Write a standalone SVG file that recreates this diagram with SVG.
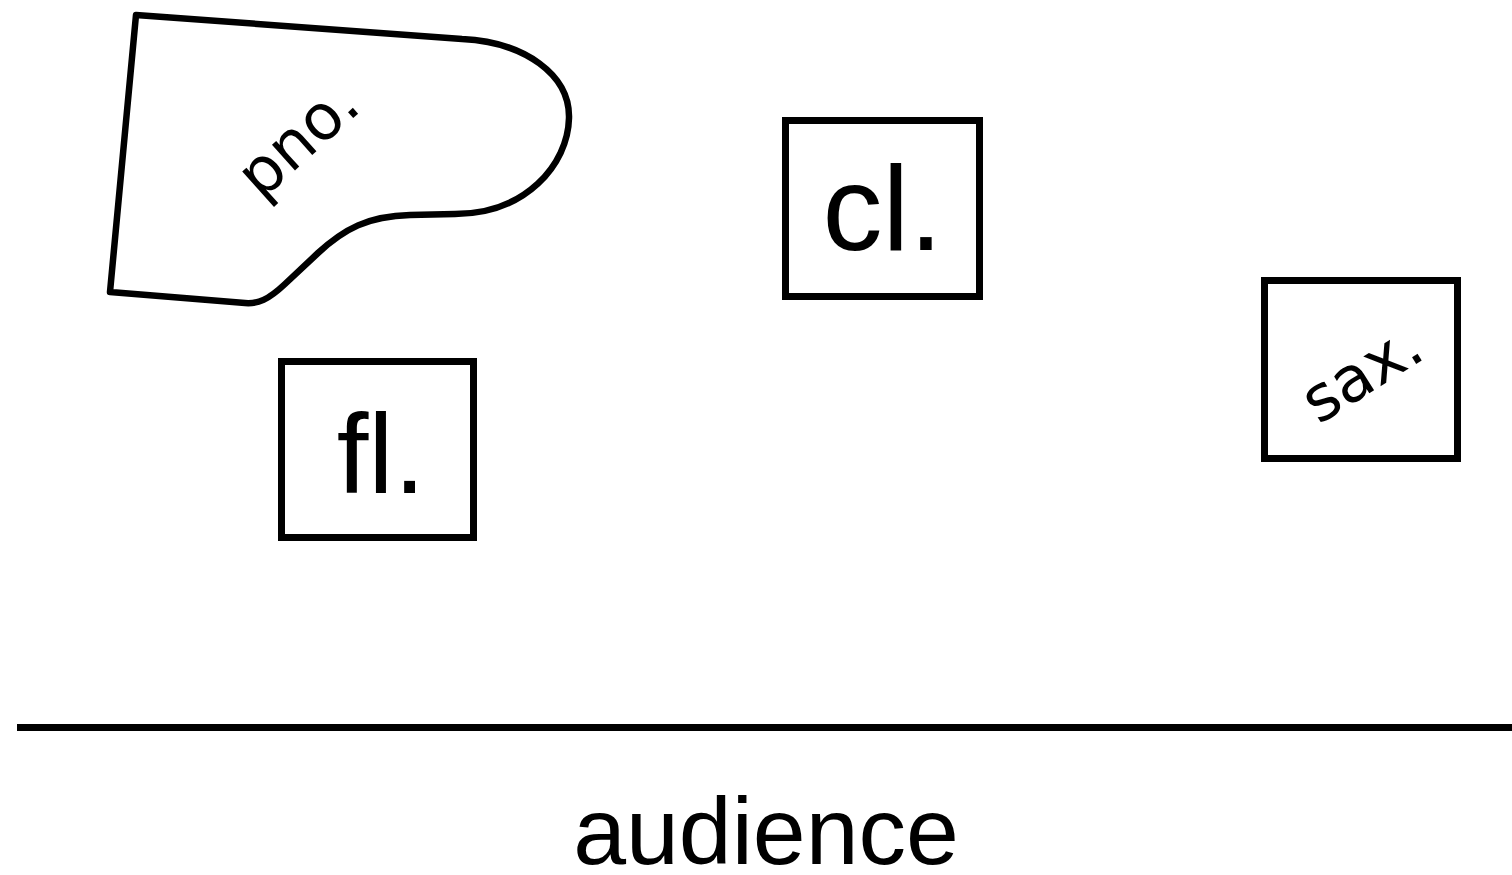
<svg xmlns="http://www.w3.org/2000/svg" width="1512" height="875" viewBox="0 0 1512 875">
<style>
.box{fill:none;stroke:#000;stroke-width:7}
.shape{fill:none;stroke:#000;stroke-width:6.5;stroke-linejoin:round}
.lbl{font-family:"Liberation Sans",Arial,sans-serif;fill:#000;text-anchor:middle}
.rot{font-family:"DejaVu Sans",sans-serif;fill:#000;text-anchor:middle;font-size:63px}
</style>
<rect width="1512" height="875" fill="#fff"/>
<g id="piano">
<path class="shape" d="M 136 15 L 462 39 C 525 42 570 75 569 118 C 568 165 525 214 455 214 L 410 215 C 368 216 344 229 318 253 L 285 284 C 268 300 258 304 245 303 L 110 292 Z"/>
<text class="rot" transform="translate(312,155) rotate(-42)">pno.</text>
</g>
<g id="clarinet">
<rect class="box" x="785.5" y="120.5" width="194" height="176"/>
<text class="lbl" x="882.5" y="250" font-size="120">cl.</text>
</g>
<g id="flute">
<rect class="box" x="281.5" y="361.5" width="192" height="176"/>
<text class="lbl" x="381" y="493" font-size="114">fl.</text>
</g>
<g id="saxophone">
<rect class="box" x="1264.5" y="280.5" width="193" height="178"/>
<text class="rot" transform="translate(1373,391) rotate(-32)">sax.</text>
</g>
<g id="connectors">
<line x1="17" y1="727.5" x2="1512" y2="727.5" stroke="#000" stroke-width="7"/>
</g>
<text class="lbl" x="766" y="864" font-size="95">audience</text>
</svg>
